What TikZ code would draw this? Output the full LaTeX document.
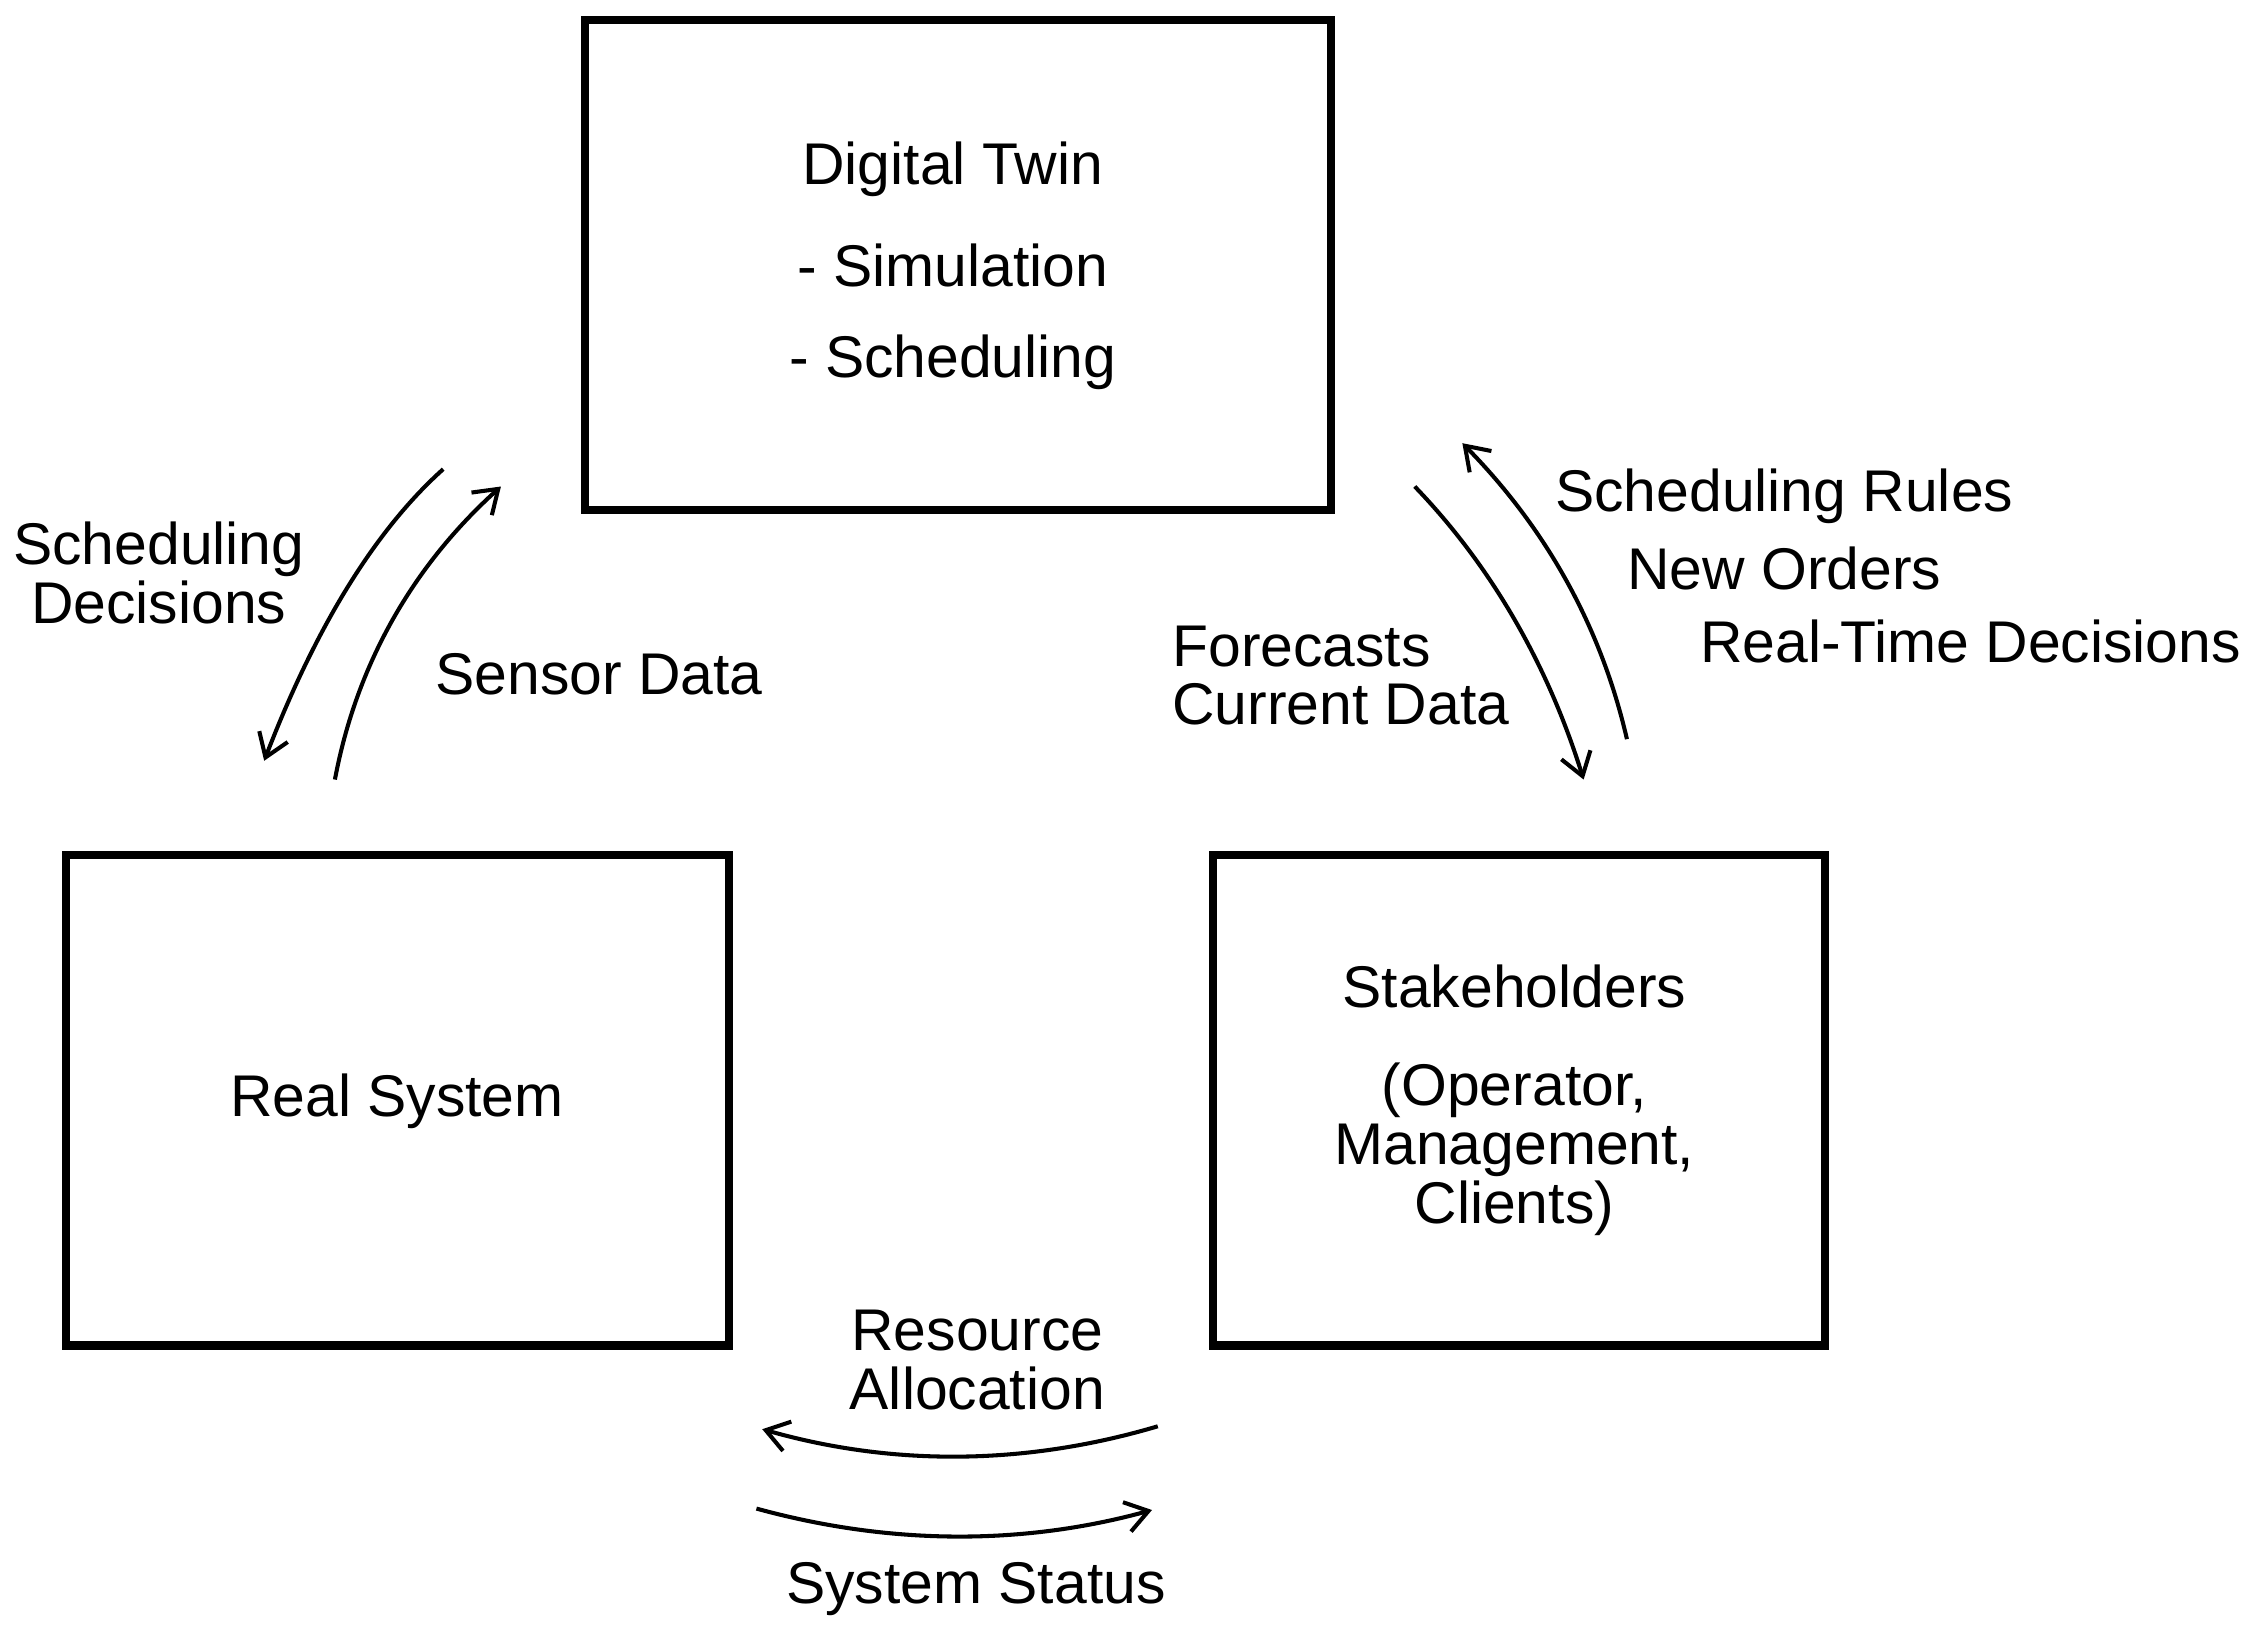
\documentclass[tikz,border=0pt]{standalone}
\usepackage{fontspec}
\setmainfont{Liberation Sans}
\usetikzlibrary{arrows.meta}
\begin{document}
\begin{tikzpicture}[x=0.05cm,y=-0.05cm,
  box/.style={draw,line width=8pt},
  lbl/.style={font=\fontsize{58}{66}\selectfont,inner sep=0pt,align=center},
  arr/.style={line width=4pt,-{Straight Barb[length=22pt,width=30pt,line width=4pt]}}]
\useasboundingbox (0,0) rectangle (1560,1128);
\node[box,minimum width=517*0.05cm,minimum height=339*0.05cm] (dt) at (663.5,183.5) {};
\node[box,minimum width=459*0.05cm,minimum height=340*0.05cm] (rs) at (275.5,762) {};
\node[box,minimum width=424*0.05cm,minimum height=340*0.05cm] (sh) at (1052,762) {};
\node[lbl] (t1) at (660,117) {Digital Twin};
\node[lbl] (t2) at (660,184) {- Simulation};
\node[lbl] (t3) at (660,251) {- Scheduling};
\node[lbl] (t4) at (275,763) {Real System};
\node[lbl] (t5) at (1049,683) {Stakeholders};
\node[lbl] (t6) at (1049,796) {(Operator,\\[-8pt]Management,\\[-8pt]Clients)};
\coordinate (a1) at (307,325); \coordinate (a2) at (183,527);
\coordinate (b1) at (232,540); \coordinate (b2) at (347,337);
\coordinate (c1) at (980,337); \coordinate (c2) at (1097,540);
\coordinate (d1) at (1127,512); \coordinate (d2) at (1013,307);
\coordinate (e1) at (802,988); \coordinate (e2) at (528,990);
\coordinate (f1) at (524,1045); \coordinate (f2) at (798,1046);
\draw[arr] (a1) .. controls (259,368) and (218,436) .. (a2);
\draw[arr] (b1) .. controls (247,460) and (286,392) .. (b2);
\draw[arr] (c1) .. controls (1033,392) and (1072,460) .. (c2);
\draw[arr] (d1) .. controls (1109,434) and (1071,366) .. (d2);
\draw[arr] (e1) .. controls (711,1015) and (619,1016) .. (e2);
\draw[arr] (f1) .. controls (615,1070) and (707,1071) .. (f2);
\node[lbl] (l1) at (110,397) {Scheduling\\[-8pt]Decisions};
\node[lbl] (l2) at (415,467) {Sensor Data};
\node[lbl,align=left,anchor=west] (l3) at (812,468) {Forecasts\\[-8pt]Current Data};
\node[lbl] (l4) at (1236,344) {Scheduling Rules};
\node[lbl] (l5) at (1236,394) {New Orders};
\node[lbl] (l6) at (1365,444) {Real-Time Decisions};
\node[lbl] (l7) at (677,942) {Resource\\[-8pt]Allocation};
\node[lbl] (l8) at (676,1101) {System Status};
\end{tikzpicture}
\end{document}
